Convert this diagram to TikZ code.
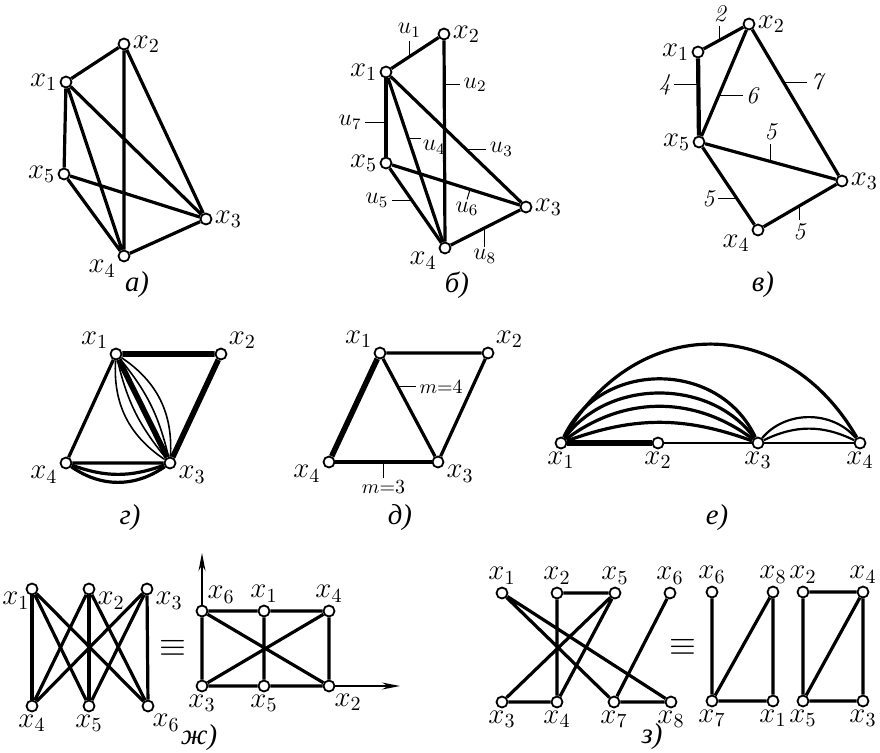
\documentclass[tikz,border=0pt]{standalone}
\usepackage{fontspec}
\newfontfamily\cyrfont{Liberation Serif}
\usetikzlibrary{positioning,arrows.meta}

\tikzset{
  vtx/.style={circle,draw,fill=white,inner sep=0pt,minimum size=5.5pt,line width=0.9pt},
  edge/.style={line width=1.6pt},
  fat edge/.style={line width=2.8pt},
  thin edge/.style={line width=0.8pt},
  tick/.style={line width=0.5pt},
  wt/.style={font=\large\itshape,inner sep=1.5pt},
  elbl/.style={font=\large,inner sep=1.5pt},
  mlbl/.style={font=\normalsize,inner sep=1.5pt},
  captxt/.style={font=\Large\cyrfont\itshape},
  axis/.style={line width=0.6pt,-{Stealth[length=9pt,width=3.5pt]}},
  every label/.style={font=\Large,inner sep=1pt},
}

\begin{document}
\begin{tikzpicture}[x=0.5pt,y=-0.5pt]
\useasboundingbox (0,0) rectangle (880,752);

% a) graph on five vertices
\node[vtx,label=right:$x_2$] (a2) at (124,44) {};
\node[vtx,label=left:$x_1$] (a1) at (66,82) {};
\node[vtx,label=left:$x_5$] (a5) at (64,174) {};
\node[vtx,label=right:$x_3$] (a3) at (206,219) {};
\node[vtx,label=200:$x_4$] (a4) at (124,256) {};
\draw[edge] (a1)--(a2) (a2)--(a4) (a2)--(a3) (a1)--(a5) (a1)--(a4)
  (a1)--(a3) (a5)--(a3) (a5)--(a4) (a4)--(a3);
\node[captxt] (capa) at (137,285) {а)};

% b) the same graph, edges named
\node[vtx,label=right:$x_2$] (b2) at (444,34) {};
\node[vtx,label=left:$x_1$] (b1) at (386,72) {};
\node[vtx,label=left:$x_5$] (b5) at (386,163) {};
\node[vtx,label=right:$x_3$] (b3) at (526,207) {};
\node[vtx,label=200:$x_4$] (b4) at (445,248) {};
\draw[edge] (b1) -- (b2) coordinate[pos=.38] (u1);
\draw[edge] (b2) -- (b4) coordinate[pos=.22] (u2);
\draw[edge] (b1) -- (b3) coordinate[pos=.58] (u3);
\draw[edge] (b1) -- (b4) coordinate[pos=.37] (u4);
\draw[edge] (b5) -- (b4) coordinate[pos=.43] (u5);
\draw[edge] (b5) -- (b3) coordinate[pos=.61] (u6);
\draw[edge] (b1) -- (b5) coordinate[pos=.56] (u7);
\draw[edge] (b4) -- (b3) coordinate[pos=.49] (u8);
\draw[tick] (u1) -- ++(0,-16) node[above,elbl] {$u_1$};
\draw[tick] (u2) -- ++(16,0) node[right,elbl] {$u_2$};
\draw[tick] (u3) -- ++(20,0) node[right,elbl] {$u_3$};
\draw[tick] (u4) -- ++(13,0) node[below right,elbl,inner sep=0.5pt] {$u_4$};
\draw[tick] (u5) -- ++(-20,0) node[left,elbl] {$u_5$};
\draw[tick] (u6) -- ++(-3,10) node[below,elbl,inner sep=1pt] {$u_6$};
\draw[tick] (u7) -- ++(-21,0) node[left,elbl] {$u_7$};
\draw[tick] (u8) -- ++(0,19) node[below,elbl,inner sep=1pt] {$u_8$};
\node[captxt] (capb) at (457,285) {б)};

% c) weighted graph
\node[vtx,label=right:$x_2$] (c2) at (749,24) {};
\node[vtx,label=left:$x_1$] (c1) at (698,52) {};
\node[vtx,label=left:$x_5$] (c5) at (699,142) {};
\node[vtx,label=right:$x_3$] (c3) at (842,181) {};
\node[vtx,label=200:$x_4$] (c4) at (758,230) {};
\draw[edge] (c1) -- (c2) coordinate[pos=.41] (w12);
\draw[edge,line width=2.1pt] (c1) -- (c5) coordinate[pos=.34] (w15);
\draw[edge] (c5) -- (c2) coordinate[pos=.38] (w52);
\draw[edge] (c2) -- (c3) coordinate[pos=.36] (w23);
\draw[edge] (c5) -- (c3) coordinate[pos=.50] (w53);
\draw[edge] (c5) -- (c4) coordinate[pos=.66] (w54);
\draw[edge] (c4) -- (c3) coordinate[pos=.49] (w43);
\draw[tick] (w12) -- ++(0,-14) node[above,wt] {2};
\draw[tick] (w15) -- ++(-24,0) node[left,wt] {4};
\draw[tick] (w52) -- ++(24,0) node[right,wt] {6};
\draw[tick] (w23) -- ++(24,0) node[right,wt] {7};
\draw[tick] (w53) -- ++(0,-18) node[above,wt] {5};
\draw[tick] (w54) -- ++(-19,0) node[left,wt] {5};
\draw[tick] (w43) -- ++(0,14) node[below,wt] {5};
\node[captxt] (capc) at (763,285) {в)};

% d) multigraph
\node[vtx,label=150:$x_1$] (d1) at (116,354) {};
\node[vtx,label=30:$x_2$] (d2) at (221,354) {};
\node[vtx,label=-10:$x_3$] (d3) at (170,463) {};
\node[vtx,label=190:$x_4$] (d4) at (66,463) {};
\draw[fat edge] (d1)--(d2) (d2)--(d3) (d1)--(d3);
\draw[edge] (d1)--(d4) (d4)--(d3);
\foreach \b in {13,30} {
  \draw[thin edge] (d1) to[bend left=\b] (d3);
  \draw[thin edge] (d1) to[bend right=\b] (d3);
}
\foreach \b in {20,35}
  \draw[edge] (d4) to[bend right=\b] (d3);
\node[captxt] (capd) at (130,518) {г)};

% e) edge multiplicities
\node[vtx,label=150:$x_1$] (e1) at (380,353) {};
\node[vtx,label=30:$x_2$] (e2) at (488,353) {};
\node[vtx,label=-10:$x_3$] (e3) at (438,462) {};
\node[vtx,label=190:$x_4$] (e4) at (329,462) {};
\draw[edge] (e1)--(e2) (e2)--(e3);
\draw[edge] (e1) -- (e3) coordinate[pos=.29] (m13);
\draw[fat edge] (e1)--(e4);
\draw[edge,line width=1.9pt] (e4) -- (e3) coordinate[pos=.5] (m43);
\draw[tick] (m13) -- ++(18,0) node[right,mlbl] {$m{=}4$};
\draw[tick] (m43) -- ++(0,16) node[below,mlbl,inner sep=1pt] {$m{=}3$};
\node[captxt] (cape) at (400,518) {д)};

% f) vertices on a line
\node[vtx,label=below:$x_1$] (f1) at (561,443) {};
\node[vtx,label=below:$x_2$] (f2) at (658,443) {};
\node[vtx,label=below:$x_3$] (f3) at (758,443) {};
\node[vtx,label=below:$x_4$] (f4) at (860,443) {};
\draw[line width=3pt] (f1)--(f2);
\draw[thin edge] (f2)--(f3) (f3)--(f4);
\foreach \a/\l in {20/1,37/1,54/1,65/1.15}
  \draw[edge] (f1) to[out=\a,in=180-\a,looseness=\l] (f3);
\draw[edge] (f1) to[out=60,in=120,looseness=1.26] (f4);
\foreach \a in {26,50}
  \draw[thin edge,line width=1.1pt] (f3) to[out=\a,in=180-\a] (f4);
\node[captxt] (capf) at (717,518) {е)};

% g) K_{3,3} and its plane picture
\node[vtx,label={[xshift=3pt]190:$x_1$}] (g1) at (32,589) {};
\node[vtx,label=-10:$x_2$] (g2) at (89,589) {};
\node[vtx,label=-10:$x_3$] (g3) at (147,589) {};
\node[vtx,label=below:$x_4$] (g4) at (32,706) {};
\node[vtx,label=below:$x_5$] (g5) at (89,706) {};
\node[vtx,label=-70:$x_6$] (g6) at (148,706) {};
\foreach \i in {1,2,3}
  \foreach \j in {4,5,6}
    \draw[edge] (g\i)--(g\j);
\node[font=\LARGE] (geq) at (173,648) {$\equiv$};

\node[vtx,label=60:$x_6$] (h6) at (202,611) {};
\node[vtx,label=above:$x_1$] (h1) at (264,611) {};
\node[vtx,label=above:$x_4$] (h4) at (329,611) {};
\node[vtx,label=below:$x_3$] (h3) at (202,686) {};
\node[vtx,label=below:$x_5$] (h5) at (264,686) {};
\node[vtx,label=-60:$x_2$] (h2) at (329,686) {};
\draw[edge] (h6)--(h1) (h1)--(h4) (h3)--(h5) (h5)--(h2) (h6)--(h3)
  (h1)--(h5) (h4)--(h2) (h6)--(h2) (h3)--(h4);
\coordinate (yend) at (202,553);
\coordinate (xend) at (400,686);
\draw[axis] (h6) -- (yend);
\draw[axis] (h2) -- (xend);
\node[captxt] (capg) at (199,738) {ж)};

% h) two pictures of one graph
\node[vtx,label=above:$x_1$] (k1) at (502,593) {};
\node[vtx,label=above:$x_2$] (k2) at (557,593) {};
\node[vtx,label=above:$x_5$] (k5) at (615,593) {};
\node[vtx,label=above:$x_6$] (k6) at (670,593) {};
\node[vtx,label=below:$x_3$] (k3) at (502,702) {};
\node[vtx,label=below:$x_4$] (k4) at (557,702) {};
\node[vtx,label=below:$x_7$] (k7) at (614,702) {};
\node[vtx,label=below:$x_8$] (k8) at (671,702) {};
\draw[edge] (k2)--(k5) (k2)--(k4) (k1)--(k7) (k1)--(k8) (k5)--(k3)
  (k5)--(k4) (k6)--(k7) (k3)--(k4) (k7)--(k8);
\node[font=\LARGE] (heq) at (683,647) {$\equiv$};

\node[vtx,label=above:$x_6$] (m6) at (712,592) {};
\node[vtx,label=above:$x_8$] (m8) at (773,592) {};
\node[vtx,label=below:$x_7$] (m7) at (712,701) {};
\node[vtx,label=below:$x_1$] (m1) at (773,701) {};
\draw[edge] (m6)--(m7) (m8)--(m7) (m8)--(m1) (m7)--(m1);

\node[vtx,label=above:$x_2$] (n2) at (803,592) {};
\node[vtx,label=above:$x_4$] (n4) at (863,592) {};
\node[vtx,label=below:$x_5$] (n5) at (803,701) {};
\node[vtx,label=below:$x_3$] (n3) at (863,701) {};
\draw[edge] (n2)--(n4) (n2)--(n5) (n4)--(n5) (n4)--(n3) (n5)--(n3);
\node[captxt] (caph) at (652,737) {з)};

\end{tikzpicture}
\end{document}
